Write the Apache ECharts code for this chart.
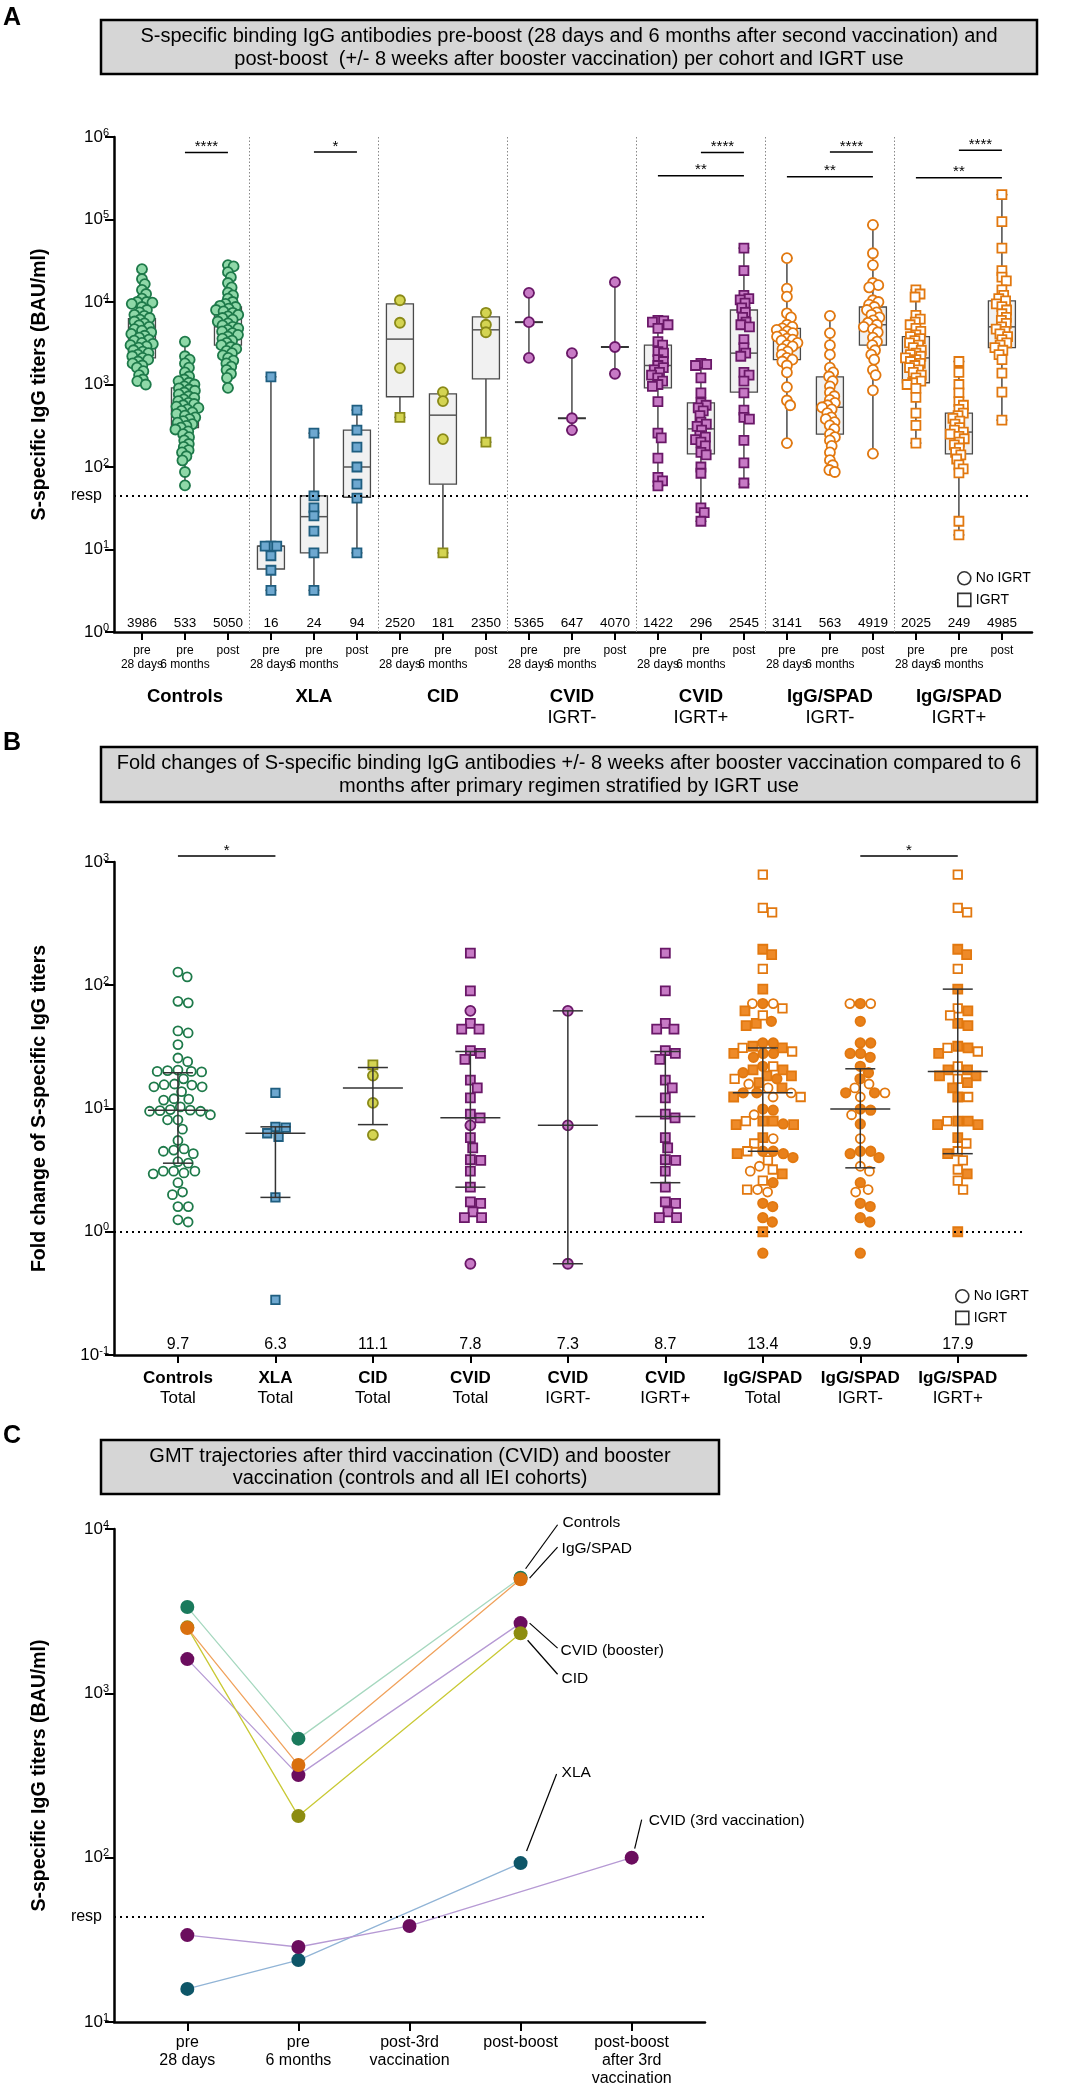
<!DOCTYPE html>
<html><head><meta charset="utf-8">
<script src="https://cdn.jsdelivr.net/npm/echarts@6.0.0/dist/echarts.min.js"></script>
<style>html,body{margin:0;padding:0;background:#fff;}#chart{width:1065px;height:2091px;}</style>
</head><body><div id="chart"></div>
<script>
// ================= PANEL A DATA =================
const aPhases = ['pre\n28 days', 'pre\n6 months', 'post'];
const aGroups = ['Controls', 'XLA', 'CID', 'CVID\nIGRT-', 'CVID\nIGRT+', 'IgG/SPAD\nIGRT-', 'IgG/SPAD\nIGRT+'];
const aGMT = [3986, 533, 5050, 16, 24, 94, 2520, 181, 2350, 5365, 647, 4070, 1422, 296, 2545, 3141, 563, 4919, 2025, 249, 4985];
const aMin = [1000, 59, 910, 3.2, 3.2, 9.1, 400, 9.1, 200, 2100, 280, 1350, 59, 22, 62, 195, 87, 145, 195, 15, 370];
const aQ1  = [2100, 300, 3000, 5.8, 9.1, 43, 710, 62, 1170, null, null, null, 910, 144, 810, 2000, 250, 3000, 1050, 144, 2800];
const aMed = [3500, 540, 5000, 11, 25, 100, 3550, 425, 4600, 5700, 390, 2850, 1700, 290, 2400, 3500, 530, 5300, 2100, 265, 5000];
const aQ3  = [6300, 910, 8700, 11, 44.6, 280, 9500, 770, 6600, null, null, null, 3000, 600, 8000, 4800, 1240, 8700, 3800, 450, 10300];
const aMax = [25000, 3300, 28000, 1240, 257, 490, 10500, 810, 7400, 12900, 2400, 17400, 6000, 1800, 45000, 34000, 6800, 86000, 14000, 1900, 200000];
const aResp = 44.5;
const aSigFrom = [1, 4, 13, 12, 16, 15, 19, 18];
const aSigTo   = [2, 5, 14, 14, 17, 17, 20, 20];
const aSigY    = [650000, 660000, 650000, 340000, 660000, 330000, 690000, 320000];
const aSigText = ['****', '*', '****', '**', '****', '**', '****', '**'];

const ctrlPre28 = [25000,19000,16500,14000,12500,11000,10000,10000,9800,9500,8700,8000,7500,7000,6800,6400,6100,5800,5500,5200,5000,4700,4500,4300,4100,3900,3700,3500,3400,3200,3100,3000,2900,2800,2600,2500,2400,2300,2200,2100,2000,1900,1800,1700,1600,1450,1300,1150,1100,1000];
const ctrlPre6m = [3300,2200,2000,1800,1600,1400,1250,1150,1100,1050,1000,950,900,870,840,800,760,720,690,660,630,600,580,560,540,520,500,480,460,440,420,400,380,360,345,330,315,300,285,270,250,230,210,190,175,160,150,135,120,87,60];
const ctrlPost = [28000,27000,23000,20000,17000,15000,13000,12000,11000,10000,9500,9000,8700,8300,8000,7700,7400,7000,6700,6400,6100,5800,5500,5200,5000,4800,4600,4400,4200,4000,3800,3600,3400,3200,3000,2850,2700,2550,2400,2250,2100,1950,1800,1650,1500,1350,1200,910];
const xlaPre28 = [1240, 11, 11, 11, 8.4, 5.6, 3.2];
const xlaPre6m = [257, 44.6, 32, 25.5, 16.7, 9.1, 3.2];
const xlaPost = [490, 280, 174, 100, 62, 42, 9.1];
const cidPre28C = [10500, 5600, 1580], cidPre28S = [400];
const cidPre6mC = [810, 630, 218], cidPre6mS = [9.1];
const cidPostC = [7400, 5300, 4300], cidPostS = [200];
const cvidNegPre28 = [12900, 5700, 2100];
const cvidNegPre6m = [2400, 390, 280];
const cvidNegPost = [17400, 2850, 1350];
const cvidPosPre28 = [6000,5900,5700,5300,4800,3300,3000,2500,2400,2000,1900,1700,1600,1500,1400,1300,1200,1100,1000,950,620,257,225,128,75,68,59];
const cvidPosPre6m = [1800,1750,1700,1200,790,600,560,520,480,420,350,330,310,280,240,230,215,200,180,150,140,100,84,32,28,22];
const cvidPosPost = [45000,24000,12000,11000,10600,9700,8500,7500,6500,5700,5300,5000,3500,2800,2400,2200,1400,1300,1100,790,490,400,380,210,112,64];
const spadNegPre28 = [34000,14500,11600,7300,6500,5300,5000,4800,4600,4400,4200,4000,3800,3600,3500,3400,3200,3000,2900,2700,2500,2300,2100,2000,1900,1700,1400,930,640,560,195];
const spadNegPre6m = [6800,4200,3000,2300,1600,1400,1250,1100,950,800,720,650,600,560,530,500,450,400,380,350,320,290,250,230,210,180,150,121,105,92,87];
const spadNegPost = [86000,39000,28000,17000,16000,15000,10500,10000,9300,8700,8000,7500,7000,6500,6000,5600,5300,5000,4700,4300,3700,3300,3000,2600,2300,2000,1500,1300,850,145];
const spadPosPre28 = [14000,12500,11500,6900,6200,5700,5300,4800,4400,4000,3800,3600,3400,3200,3000,2800,2600,2400,2300,2200,2100,2000,1900,1800,1700,1600,1500,1400,1300,1200,1100,1050,1000,900,700,450,320,195];
const spadPosPre6m = [1900,1400,1000,790,620,560,500,450,420,390,360,330,300,280,265,250,235,220,200,185,170,150,140,125,106,95,85,22,15];
const spadPosPost = [200000,94000,45000,24000,20000,18000,14000,12000,11000,10300,9500,8800,8000,7200,6500,6000,5500,5000,4700,4400,4100,3800,3500,3200,3000,2800,2600,2300,2000,1370,810,370];

// ================= PANEL B DATA =================
const bCats = [['Controls','Total'],['XLA','Total'],['CID','Total'],['CVID','Total'],['CVID','IGRT-'],['CVID','IGRT+'],['IgG/SPAD','Total'],['IgG/SPAD','IGRT-'],['IgG/SPAD','IGRT+']];
const bLabels = ['9.7', '6.3', '11.1', '7.8', '7.3', '8.7', '13.4', '9.9', '17.9'];
const bLow  = [3.6, 1.9, 7.4, 2.3, 0.55, 2.5, 4.5, 3.3, 4.3];
const bMid  = [9.7, 6.3, 14.7, 8.4, 7.3, 8.6, 13.4, 9.9, 20];
const bHigh = [19.5, 7.1, 21.5, 29, 62, 29, 31, 21, 93];
const bSigFrom = [0, 7], bSigTo = [1, 8], bSigY = [1120, 1120], bSigText = ['*', '*'];
const bCtrl = [128,117,74,72,42.6,41,33,25.7,24,20.5,20,19.8,20.3,20,17.4,15.8,15.5,15.6,15,15,13.7,12,11.7,11.9,10.3,9.8,9.6,9.5,9.7,9.5,8.9,8.1,8.1,6.8,5.5,4.5,4.6,4.7,4.3,3.7,3.6,3.1,3.1,3.1,2.95,3.0,2.5,2.0,2.1,1.6,1.6,1.2,1.25];
const bXla = [13.4, 7.0, 7.1, 6.3, 5.9, 1.9, 0.28];
const bCidC = [18.5, 11.1, 6.1], bCidS = [22.6];
const bCvidNeg = [62, 7.3, 0.55];
const bCvidPos = [182, 90, 49, 44, 44, 28, 29.5, 25, 17, 14.7, 12.2, 9, 8.4, 5.8, 4.8, 3.8, 3.85, 3.1, 2.3, 1.75, 1.7, 1.45, 1.3, 1.3];
const bSpadNegFilled = [71, 51, 34, 34, 28, 28, 26, 22, 19.5, 17.4, 13.4, 13.4, 9.9, 9.7, 7.5, 4.5, 4.5, 4.3, 4.0, 2.5, 1.7, 1.6, 1.3, 1.2, 0.67];
const bSpadNegOpen = [71, 71, 15.8, 14.7, 13.4, 12.4, 8.9, 5.7, 3.4, 3.1, 2.2, 2.1];
const bSpadPosFilled = [196, 177, 93, 62, 49, 47, 32, 31, 28, 20.6, 20.6, 18.4, 18.4, 16.2, 14.7, 12.4, 7.9, 7.9, 7.4, 7.4, 5.8, 4.3, 2.95, 1.0];
const bSpadPosOpen = [790, 425, 390, 136, 65, 57, 31, 29, 22, 17.4, 12.4, 7.9, 5.2, 4.5, 3.8, 3.2, 2.6, 2.2];

// ================= PANEL C DATA =================
const cCats = ['pre\n28 days', 'pre\n6 months', 'post-3rd\nvaccination', 'post-boost', 'post-boost\nafter 3rd\nvaccination'];
const cControls  = [3350, 530, null, 5050, null];
const cCvidBoost = [1615, 318, null, 2675, null];
const cCid       = [2520, 179, null, 2320, null];
const cSpad      = [2500, 366, null, 4950, null];
const cXla       = [15.9, 23.8, null, 92.7, null];
const cCvid3rd   = [33.8, 28.6, 38.4, null, 100];
const cResp = 44;
const cLabelText = ['Controls', 'IgG/SPAD', 'CVID (booster)', 'CID', 'XLA', 'CVID (3rd vaccination)'];
const cLabelSrc  = [cControls, cSpad, cCvidBoost, cCid, cXla, cCvid3rd];
const cLabelIdx  = [3, 3, 3, 3, 3, 4];

// ================= STYLE / LAYOUT =================
const FONT = '"Liberation Sans", Arial, Helvetica, sans-serif';
const STY = {
  ctrlA: {symbol: 'circle', size: 10, fill: '#8fd8a8', stroke: '#1e7a4a'},
  xlaA:  {symbol: 'rect', size: 9, fill: '#6ea8d0', stroke: '#1f5e80'},
  cidC:  {symbol: 'circle', size: 10, fill: '#d4d452', stroke: '#8a8a18'},
  cidS:  {symbol: 'rect', size: 9, fill: '#d4d452', stroke: '#8a8a18'},
  cvidC: {symbol: 'circle', size: 10, fill: '#c77ac5', stroke: '#6a1868'},
  cvidS: {symbol: 'rect', size: 9, fill: '#c77ac5', stroke: '#6a1868'},
  spadC: {symbol: 'circle', size: 10, fill: '#ffffff', stroke: '#e2780f'},
  spadS: {symbol: 'rect', size: 9, fill: '#ffffff', stroke: '#e2780f'},
  ctrlB: {symbol: 'circle', size: 9, fill: '#ffffff', stroke: '#1e7a4a'},
  xlaB:  {symbol: 'rect', size: 8.5, fill: '#6ea8d0', stroke: '#1f5e80'},
  spCF:  {symbol: 'circle', size: 9.5, fill: '#e8801a', stroke: '#e2780f'},
  spCO:  {symbol: 'circle', size: 9, fill: '#ffffff', stroke: '#e2780f'},
  spSF:  {symbol: 'rect', size: 9, fill: '#ee8a28', stroke: '#e2780f'},
  spSO:  {symbol: 'rect', size: 8.5, fill: '#ffffff', stroke: '#e2780f'}
};
const colsA = [
  [[ctrlPre28, 'ctrlA']], [[ctrlPre6m, 'ctrlA']], [[ctrlPost, 'ctrlA']],
  [[xlaPre28, 'xlaA']], [[xlaPre6m, 'xlaA']], [[xlaPost, 'xlaA']],
  [[cidPre28C, 'cidC'], [cidPre28S, 'cidS']], [[cidPre6mC, 'cidC'], [cidPre6mS, 'cidS']], [[cidPostC, 'cidC'], [cidPostS, 'cidS']],
  [[cvidNegPre28, 'cvidC']], [[cvidNegPre6m, 'cvidC']], [[cvidNegPost, 'cvidC']],
  [[cvidPosPre28, 'cvidS']], [[cvidPosPre6m, 'cvidS']], [[cvidPosPost, 'cvidS']],
  [[spadNegPre28, 'spadC']], [[spadNegPre6m, 'spadC']], [[spadNegPost, 'spadC']],
  [[spadPosPre28, 'spadS']], [[spadPosPre6m, 'spadS']], [[spadPosPost, 'spadS']]
];
const colsB = [
  [[bCtrl, 'ctrlB']],
  [[bXla, 'xlaB']],
  [[bCidC, 'cidC'], [bCidS, 'cidS']],
  [[bCvidNeg, 'cvidC'], [bCvidPos, 'cvidS']],
  [[bCvidNeg, 'cvidC']],
  [[bCvidPos, 'cvidS']],
  [[bSpadNegFilled, 'spCF'], [bSpadNegOpen, 'spCO'], [bSpadPosFilled, 'spSF'], [bSpadPosOpen, 'spSO']],
  [[bSpadNegFilled, 'spCF'], [bSpadNegOpen, 'spCO']],
  [[bSpadPosFilled, 'spSF'], [bSpadPosOpen, 'spSO']]
];
const C_STY = [
  {src: cControls, dot: '#1a7a5c', line: '#a6d8bf'},
  {src: cCvidBoost, dot: '#6b0d5e', line: '#b69ad4'},
  {src: cCid, dot: '#8c8c10', line: '#c9c935'},
  {src: cSpad, dot: '#d9700f', line: '#f0a25c'},
  {src: cXla, dot: '#0e5668', line: '#91b4d6'},
  {src: cCvid3rd, dot: '#6b0d5e', line: '#b69ad4'}
];
const C_LABEL_LAYOUT = [[5,-9,37,-53,42,-55],[9,-1,37,-32,41,-30],[9,0,37,25,40,28],[7,7,37,41,41,45],[6,-12,36,-89,41,-90],[3,-9,10,-38,17,-37]];

// beeswarm in pixel space -> offsets in axis units
function swarm(vals, pxX, pxY, d) {
  const order = vals.map((v, i) => i).sort((a, b) => vals[b] - vals[a]);
  const placed = []; const out = new Array(vals.length);
  order.forEach(i => {
    const y = Math.log10(vals[i]) * pxY;
    const iv = [];
    placed.forEach(p => { const dy = Math.abs(p.y - y); if (dy < d) { const w = Math.sqrt(d * d - dy * dy); iv.push([p.x - w, p.x + w]); } });
    const cands = [0];
    iv.forEach(r => cands.push(r[0], r[1]));
    cands.sort((a, b) => (Math.abs(a) - Math.abs(b)) || (b - a));
    let x = 0;
    for (const c of cands) { if (iv.every(r => c <= r[0] + 1e-6 || c >= r[1] - 1e-6)) { x = c; break; } }
    placed.push({x, y}); out[i] = x / pxX;
  });
  return out;
}
function buildScatter(cols, pxX, pxY, d, xi, yi, prefix) {
  const byStyle = {};
  cols.forEach((groups, ci) => {
    const items = [];
    groups.forEach(([arr, st]) => arr.forEach(v => items.push({v, st})));
    const offs = swarm(items.map(it => it.v), pxX, pxY, d);
    items.forEach((it, k) => { (byStyle[it.st] = byStyle[it.st] || []).push([ci + offs[k], it.v]); });
  });
  return Object.keys(byStyle).map(st => ({
    type: 'scatter', name: prefix + st, xAxisIndex: xi, yAxisIndex: yi, z: 3, silent: true,
    symbol: STY[st].symbol, symbolSize: STY[st].size,
    itemStyle: {color: STY[st].fill, borderColor: STY[st].stroke, borderWidth: 1.8, opacity: 1},
    data: byStyle[st]
  }));
}

const supFmt = v => '{m|10}{e|' + Math.round(Math.log10(v)) + '}';
function yAxisCfg(grid, min, max, vals, name) {
  return {
    type: 'log', logBase: 10, gridIndex: grid, min, max,
    axisLine: {show: true, onZero: false, lineStyle: {color: '#000', width: 2.5}},
    axisTick: {show: true, length: 9, lineStyle: {color: '#000', width: 2}, customValues: vals},
    minorTick: {show: false}, splitLine: {show: false}, minorSplitLine: {show: false},
    axisLabel: {customValues: vals, formatter: supFmt, margin: 5, hideOverlap: false, showMinLabel: true, showMaxLabel: true,
      rich: {m: {fontSize: 17, color: '#000', fontFamily: FONT}, e: {fontSize: 11, color: '#000', fontFamily: FONT, padding: [0, 0, 9, 0]}}},
    name, nameLocation: 'middle', nameRotate: 90, nameGap: 64,
    nameTextStyle: {fontSize: 19.5, fontWeight: 'bold', color: '#000', fontFamily: FONT}
  };
}
const range = n => Array.from({length: n}, (_, i) => i);

function sigRender(from, to, text, fs) {
  return function (params, api) {
    const k = params.dataIndex;
    const p1 = api.coord([from[k], api.value(1)]);
    const p2 = api.coord([to[k], api.value(1)]);
    return {type: 'group', children: [
      {type: 'line', shape: {x1: p1[0], y1: p1[1], x2: p2[0], y2: p2[1]}, style: {stroke: '#000', lineWidth: 1.5}},
      {type: 'text', style: {x: (p1[0] + p2[0]) / 2, y: p1[1] + 2, text: text[k], align: 'center', verticalAlign: 'bottom', fontSize: fs, fontFamily: FONT, fill: '#000'}}
    ]};
  };
}

function boxRender(params, api) {
  const i = params.dataIndex;
  const y = v => api.coord([i, v])[1];
  const x = api.coord([i, aMed[i]])[0];
  const st = {stroke: '#4a4a4a', lineWidth: 1.5};
  const hw = 13.5, cw = 5.5;
  const ch = [];
  if (aQ1[i] != null) {
    ch.push({type: 'line', shape: {x1: x, y1: y(aMax[i]), x2: x, y2: y(aQ3[i])}, style: st});
    ch.push({type: 'line', shape: {x1: x, y1: y(aQ1[i]), x2: x, y2: y(aMin[i])}, style: st});
    ch.push({type: 'rect', shape: {x: x - hw, y: y(aQ3[i]), width: 2 * hw, height: y(aQ1[i]) - y(aQ3[i])}, style: {fill: '#f1f1f1', stroke: '#4a4a4a', lineWidth: 1.3}});
    ch.push({type: 'line', shape: {x1: x - hw, y1: y(aMed[i]), x2: x + hw, y2: y(aMed[i])}, style: {stroke: '#555', lineWidth: 1.5}});
  } else {
    ch.push({type: 'line', shape: {x1: x, y1: y(aMax[i]), x2: x, y2: y(aMin[i])}, style: st});
    ch.push({type: 'line', shape: {x1: x - 14, y1: y(aMed[i]), x2: x + 14, y2: y(aMed[i])}, style: {stroke: '#333', lineWidth: 2}});
  }
  ch.push({type: 'line', shape: {x1: x - cw, y1: y(aMax[i]), x2: x + cw, y2: y(aMax[i])}, style: st});
  ch.push({type: 'line', shape: {x1: x - cw, y1: y(aMin[i]), x2: x + cw, y2: y(aMin[i])}, style: st});
  return {type: 'group', children: ch};
}
function errRender(params, api) {
  const i = params.dataIndex;
  const y = v => api.coord([i, v])[1];
  const x = api.coord([i, bMid[i]])[0];
  const st = {stroke: '#333', lineWidth: 1.5};
  return {type: 'group', children: [
    {type: 'line', shape: {x1: x, y1: y(bHigh[i]), x2: x, y2: y(bLow[i])}, style: st},
    {type: 'line', shape: {x1: x - 15, y1: y(bHigh[i]), x2: x + 15, y2: y(bHigh[i])}, style: st},
    {type: 'line', shape: {x1: x - 15, y1: y(bLow[i]), x2: x + 15, y2: y(bLow[i])}, style: st},
    {type: 'line', shape: {x1: x - 30, y1: y(bMid[i]), x2: x + 30, y2: y(bMid[i])}, style: st}
  ]};
}
function bottomText(textArr, yVal, fs) {
  return function (params, api) {
    const p = api.coord([params.dataIndex, yVal]);
    return {type: 'text', style: {x: p[0], y: p[1] - 2, text: String(textArr[params.dataIndex]), align: 'center', verticalAlign: 'bottom', fontSize: fs, fontFamily: FONT, fill: '#000'}};
  };
}

const series = [];
// --- Panel A ---
series.push({type: 'custom', xAxisIndex: 0, yAxisIndex: 0, z: 1, silent: true, renderItem: boxRender, data: aMed.map((m, i) => [i, m])});
series.push(...buildScatter(colsA, 43, 82.5, 5.8, 0, 0, 'A_'));
series.push({type: 'custom', xAxisIndex: 0, yAxisIndex: 0, z: 4, silent: true, renderItem: bottomText(aGMT, 1, 13.5), data: aGMT.map((g, i) => [i, 1])});
series.push({type: 'custom', xAxisIndex: 0, yAxisIndex: 0, z: 4, silent: true, renderItem: sigRender(aSigFrom, aSigTo, aSigText, 15), data: aSigFrom.map((f, k) => [f, aSigY[k]])});
series.push({type: 'line', xAxisIndex: 0, yAxisIndex: 0, data: [], silent: true,
  markLine: {silent: true, symbol: ['none', 'none'], animation: false,
    data: [
      ...[2.5, 5.5, 8.5, 11.5, 14.5, 17.5].map(x => ({xAxis: x, lineStyle: {color: '#888', width: 1, type: [1.5, 2]}, label: {show: false}})),
      {yAxis: aResp, lineStyle: {color: '#000', width: 2, type: [2, 4]}, label: {show: true, position: 'start', formatter: 'resp', fontSize: 16, color: '#000', fontFamily: FONT, distance: 12}}
    ]}});
// --- Panel B ---
series.push(...buildScatter(colsB, 97.5, 123.3, 10.4, 2, 1, 'B_'));
series.push({type: 'custom', xAxisIndex: 2, yAxisIndex: 1, z: 5, silent: true, renderItem: errRender, data: bMid.map((m, i) => [i, m])});
series.push({type: 'custom', xAxisIndex: 2, yAxisIndex: 1, z: 4, silent: true, renderItem: bottomText(bLabels, 0.1, 16), data: bLabels.map((g, i) => [i, 0.1])});
series.push({type: 'custom', xAxisIndex: 2, yAxisIndex: 1, z: 4, silent: true, renderItem: sigRender(bSigFrom, bSigTo, bSigText, 15), data: bSigFrom.map((f, k) => [f, bSigY[k]])});
series.push({type: 'line', xAxisIndex: 2, yAxisIndex: 1, data: [], silent: true,
  markLine: {silent: true, symbol: ['none', 'none'], animation: false, label: {show: false},
    data: [{yAxis: 1, lineStyle: {color: '#000', width: 2, type: [2, 4]}}]}});
// --- Panel C ---
C_STY.forEach(s => {
  series.push({type: 'line', xAxisIndex: 3, yAxisIndex: 2, silent: true,
    data: s.src.map((v, i) => v == null ? null : [i, v]).filter(Boolean),
    symbol: 'circle', symbolSize: 14, showSymbol: true,
    itemStyle: {color: s.dot, borderWidth: 0}, lineStyle: {color: s.line, width: 1.3}});
});
series.push({type: 'custom', xAxisIndex: 3, yAxisIndex: 2, z: 5, silent: true,
  renderItem: function (params, api) {
    const k = params.dataIndex; const L = C_LABEL_LAYOUT[k];
    const p = api.coord([api.value(0), api.value(1)]);
    return {type: 'group', children: [
      {type: 'line', shape: {x1: p[0] + L[0], y1: p[1] + L[1], x2: p[0] + L[2], y2: p[1] + L[3]}, style: {stroke: '#000', lineWidth: 1.2}},
      {type: 'text', style: {x: p[0] + L[4], y: p[1] + L[5], text: cLabelText[k], align: 'left', verticalAlign: 'middle', fontSize: 15.5, fontFamily: FONT, fill: '#000'}}
    ]};
  },
  data: cLabelSrc.map((s, k) => [cLabelIdx[k], s[cLabelIdx[k]]])});
series.push({type: 'line', xAxisIndex: 3, yAxisIndex: 2, data: [], silent: true,
  markLine: {silent: true, symbol: ['none', 'none'], animation: false, label: {show: false},
    data: [{yAxis: cResp, lineStyle: {color: '#000', width: 2, type: [2, 4]}, label: {show: true, position: 'start', formatter: 'resp', fontSize: 16, color: '#000', fontFamily: FONT, distance: 12}}]}});
// legend dummies
series.push({type: 'scatter', name: 'No IGRT', xAxisIndex: 0, yAxisIndex: 0, data: [], symbol: 'circle'});
series.push({type: 'scatter', name: 'IGRT', xAxisIndex: 0, yAxisIndex: 0, data: [], symbol: 'rect'});

const legendItem = {textStyle: {fontSize: 14, color: '#000', fontFamily: FONT}, orient: 'vertical', itemGap: 7, itemWidth: 13, itemHeight: 13, selectedMode: false,
  data: [{name: 'No IGRT', icon: 'circle', itemStyle: {color: '#fff', borderColor: '#000', borderWidth: 1.6}},
         {name: 'IGRT', icon: 'rect', itemStyle: {color: '#fff', borderColor: '#000', borderWidth: 1.6}}]};

const xCommon = {
  axisLine: {show: true, onZero: false, lineStyle: {color: '#000', width: 2.5}},
  splitLine: {show: false}
};
// second-line phase labels for panel A: separate axes so the library never drops overlapping neighbours
function phaseLineAxis(phaseIdx) {
  const vals = range(21).filter(i => i % 3 === phaseIdx);
  return {type: 'value', gridIndex: 0, min: -0.65, max: 20.7, position: 'bottom', offset: 0,
    axisLine: {show: false}, axisTick: {show: false}, splitLine: {show: false},
    axisLabel: {customValues: vals, margin: 27, showMinLabel: true, showMaxLabel: true, hideOverlap: false,
      formatter: v => (aPhases[Math.round(v) % 3].split('\n')[1] || ''), fontSize: 12, color: '#000'}};
}

const option = {
  animation: false,
  backgroundColor: '#fff',
  textStyle: {fontFamily: FONT},
  legend: [
    Object.assign({left: 952, top: 566}, legendItem),
    Object.assign({left: 950, top: 1284}, legendItem)
  ],
  grid: [
    {left: 114, top: 137, width: 918, height: 495},
    {left: 114, top: 862, width: 912, height: 493},
    {left: 114, top: 1529, width: 591, height: 493}
  ],
  xAxis: [
    Object.assign({type: 'value', gridIndex: 0, min: -0.65, max: 20.7,
      axisTick: {show: true, length: 8, lineStyle: {color: '#000', width: 2}, customValues: range(21)},
      axisLabel: {customValues: range(21), hideOverlap: false, showMinLabel: true, showMaxLabel: true, formatter: v => aPhases[Math.round(v) % 3].split('\n')[0], fontSize: 12, color: '#000', margin: 13}}, xCommon),
    {type: 'value', gridIndex: 0, min: -0.65, max: 20.7, position: 'bottom', offset: 54,
      axisLine: {show: false}, axisTick: {show: false}, splitLine: {show: false},
      axisLabel: {customValues: [1, 4, 7, 10, 13, 16, 19], margin: 0, hideOverlap: false, showMinLabel: true, showMaxLabel: true,
        formatter: v => { const g = aGroups[Math.round((v - 1) / 3)].split('\n'); return '{b|' + g[0] + '}' + (g[1] ? '\n{n|' + g[1] + '}' : ''); },
        rich: {b: {fontSize: 18.5, fontWeight: 'bold', color: '#000', lineHeight: 21, fontFamily: FONT}, n: {fontSize: 18.5, color: '#000', lineHeight: 21, fontFamily: FONT}}}},
    Object.assign({type: 'value', gridIndex: 1, min: -0.656, max: 8.7,
      axisTick: {show: true, length: 8, lineStyle: {color: '#000', width: 2}, customValues: range(9)},
      axisLabel: {customValues: range(9), margin: 13, hideOverlap: false, showMinLabel: true, showMaxLabel: true,
        formatter: v => { const c = bCats[Math.round(v)]; return '{b|' + c[0] + '}\n{n|' + c[1] + '}'; },
        rich: {b: {fontSize: 17, fontWeight: 'bold', color: '#000', lineHeight: 20, fontFamily: FONT}, n: {fontSize: 17, color: '#000', lineHeight: 20, fontFamily: FONT}}}}, xCommon),
    Object.assign({type: 'value', gridIndex: 2, min: -0.66, max: 4.66,
      axisTick: {show: true, length: 9, lineStyle: {color: '#000', width: 2}, customValues: range(5)},
      axisLabel: {customValues: range(5), hideOverlap: false, showMinLabel: true, showMaxLabel: true, formatter: v => cCats[Math.round(v)], fontSize: 16, lineHeight: 18, color: '#000', margin: 12}}, xCommon),
    phaseLineAxis(0),
    phaseLineAxis(1)
  ],
  yAxis: [
    yAxisCfg(0, 1, 1e6, [1, 10, 100, 1e3, 1e4, 1e5, 1e6], 'S-specific IgG titers (BAU/ml)'),
    yAxisCfg(1, 0.1, 1000, [0.1, 1, 10, 100, 1000], 'Fold change of S-specific IgG titers'),
    yAxisCfg(2, 10, 1e4, [10, 100, 1000, 1e4], 'S-specific IgG titers (BAU/ml)')
  ],
  graphic: [
    {type: 'text', left: 3, top: 6, style: {text: 'A', fontSize: 25, fontWeight: 'bold', fill: '#000', fontFamily: FONT}},
    {type: 'text', left: 3, top: 731, style: {text: 'B', fontSize: 25, fontWeight: 'bold', fill: '#000', fontFamily: FONT}},
    {type: 'text', left: 3, top: 1424, style: {text: 'C', fontSize: 25, fontWeight: 'bold', fill: '#000', fontFamily: FONT}},
    {type: 'rect', shape: {x: 101, y: 20, width: 936, height: 54}, style: {fill: '#d6d6d6', stroke: '#000', lineWidth: 2.5}},
    {type: 'text', x: 569, y: 47.5, style: {text: 'S-specific binding IgG antibodies pre-boost (28 days and 6 months after second vaccination) and\npost-boost  (+/- 8 weeks after booster vaccination) per cohort and IGRT use', align: 'center', verticalAlign: 'middle', fontSize: 20, lineHeight: 23, fill: '#000', fontFamily: FONT}},
    {type: 'rect', shape: {x: 101, y: 747, width: 936, height: 55}, style: {fill: '#d6d6d6', stroke: '#000', lineWidth: 2.5}},
    {type: 'text', x: 569, y: 775, style: {text: 'Fold changes of S-specific binding IgG antibodies +/- 8 weeks after booster vaccination compared to 6\nmonths after primary regimen stratified by IGRT use', align: 'center', verticalAlign: 'middle', fontSize: 20, lineHeight: 23, fill: '#000', fontFamily: FONT}},
    {type: 'rect', shape: {x: 101, y: 1440, width: 618, height: 54}, style: {fill: '#d6d6d6', stroke: '#000', lineWidth: 2.5}},
    {type: 'text', x: 410, y: 1467.5, style: {text: 'GMT trajectories after third vaccination (CVID) and booster\nvaccination (controls and all IEI cohorts)', align: 'center', verticalAlign: 'middle', fontSize: 20, lineHeight: 22, fill: '#000', fontFamily: FONT}}
  ],
  series
};
const chart = echarts.init(document.getElementById('chart'), null, {renderer: 'canvas'});
chart.setOption(option);
</script></body></html>
